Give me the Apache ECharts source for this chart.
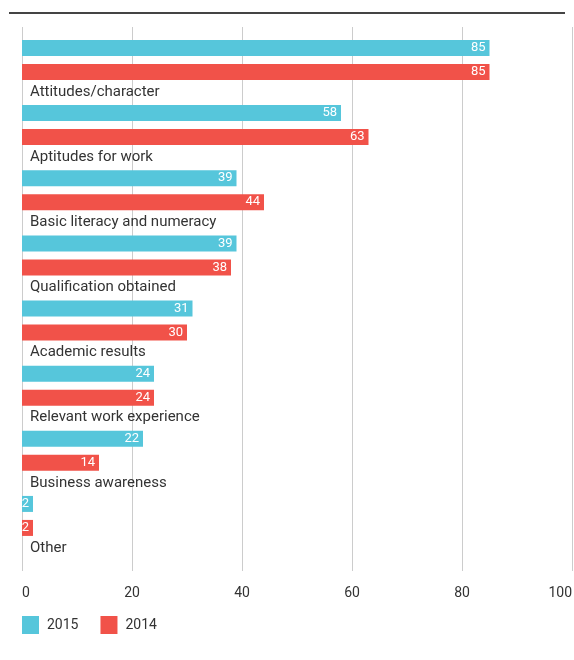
<!DOCTYPE html>
<html><head><meta charset="utf-8">
<script src="https://cdn.jsdelivr.net/npm/echarts@6/dist/echarts.min.js"></script>
<style>html,body{margin:0;padding:0;background:#fff}#c{width:574px;height:660px}</style>
</head><body><div id="c"></div>
<script>
const categories = ['Attitudes/character','Aptitudes for work','Basic literacy and numeracy','Qualification obtained','Academic results','Relevant work experience','Business awareness','Other'];
const values2015 = [85,58,39,39,31,24,22,2];
const values2014 = [85,63,44,38,30,24,14,2];
const xTicks = [0,20,40,60,80,100];

const FONT = 'Roboto';
const CYAN = '#56C6DB';
const RED = '#F15249';

const chart = echarts.init(document.getElementById('c'));
const valLabel = {show:true, position:'insideRight', distance:4, color:'#fff', fontFamily:FONT, fontSize:13};
chart.setOption({
  animation:false,
  textStyle:{fontFamily:FONT},
  graphic:[{type:'line', shape:{x1:9,y1:13,x2:565,y2:13}, style:{stroke:'#444',lineWidth:2}}],
  grid:[
    {left:22, right:2, top:39.4, bottom:99.5, outerBoundsMode:'none', containLabel:false},
    {left:22, right:2, top:27, bottom:89, outerBoundsMode:'none', containLabel:false}
  ],
  xAxis:[
    {gridIndex:0, type:'value', min:0, max:100, interval:20, show:false},
    {gridIndex:1, type:'value', min:xTicks[0], max:xTicks[xTicks.length-1], interval:xTicks[1]-xTicks[0],
     axisLine:{show:false}, axisTick:{show:false},
     splitLine:{show:true, lineStyle:{color:'#cccccc', width:1}},
     axisLabel:{margin:15, color:'#333', fontSize:14, fontFamily:FONT, alignMinLabel:'left', alignMaxLabel:'right'}}
  ],
  yAxis:[
    {gridIndex:0, type:'category', data:categories, inverse:true, show:false},
    {gridIndex:1, type:'value', show:false}
  ],
  legend:{
    left:22, top:616, padding:0, itemWidth:17, itemHeight:18, itemGap:22,
    data:['2015','2014'], icon:'rect',
    textStyle:{color:'#333', fontSize:14, fontFamily:FONT, padding:[0,0,0,3]}
  },
  series:[
    {name:'2015', type:'bar', xAxisIndex:0, yAxisIndex:0, data:values2015, barWidth:16, barGap:'50%',
     itemStyle:{color:CYAN}, label:valLabel},
    {name:'2014', type:'bar', xAxisIndex:0, yAxisIndex:0, data:values2014, barWidth:16, barGap:'50%',
     itemStyle:{color:RED}, label:valLabel},
    {name:'labels', type:'bar', xAxisIndex:0, yAxisIndex:0, data:categories.map(()=>0), barWidth:16, barGap:'50%',
     itemStyle:{color:'rgba(0,0,0,0)'}, silent:true,
     label:{show:true, position:'insideLeft', distance:8, offset:[0,-4], color:'#333', fontSize:15, fontFamily:FONT,
            formatter:p=>categories[p.dataIndex]}}
  ]
});
</script></body></html>
